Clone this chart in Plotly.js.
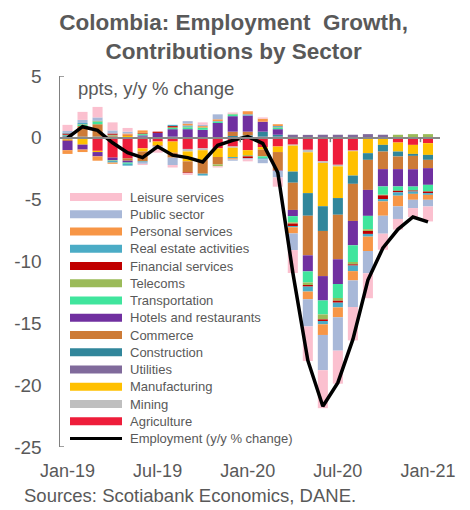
<!DOCTYPE html>
<html>
<head>
<meta charset="utf-8">
<script src="https://cdn.plot.ly/plotly-3.0.1.min.js"></script>
<style>html,body{margin:0;padding:0;background:#fff;}#chart{width:470px;height:510px;}</style>
</head>
<body>
<div id="chart"></div>
<script>
const months = ['Jan-19','Feb-19','Mar-19','Apr-19','May-19','Jun-19','Jul-19','Aug-19','Sep-19','Oct-19','Nov-19','Dec-19',
  'Jan-20','Feb-20','Mar-20','Apr-20','May-20','Jun-20','Jul-20','Aug-20','Sep-20','Oct-20','Nov-20','Dec-20','Jan-21'];
const xTickVals = ['Jan-19','Jul-19','Jan-20','Jul-20','Jan-21'];
const yTickVals = [5,0,-5,-10,-15,-20,-25];
const yTickText = ['5','0','-5','-10','-15','-20','-25'];

const agriculture   = [0.1,0,-1.05,-1.6,-1.65,-0.85,-0.3,-0.3,-0.9,-0.85,-0.85,-0.7,-1.0,-0.75,-0.7,-0.55,-0.97,-1.9,-2.18,-1.03,0.05,0,-0.38,-0.57,-0.43];
const mining        = [0,0,0,0,0,0,0,0,-0.2,-0.15,0,-0.1,0,0,0,-0.08,-0.2,-0.13,-0.13,-0.05,0,0,0,0,0];
const manufacturing = [-0.15,-0.55,-0.1,0,0.2,-0.25,-0.3,-0.9,-0.8,-0.8,-0.7,-0.75,-0.4,-0.2,-0.45,-2.1,-3.3,-3.5,-2.56,-1.97,-1.24,-0.57,-0.73,-0.73,-0.95];
const utilities     = [0,0,0,0,0,0,0,0,0,0,0,0,0,0.1,0.1,0.25,0.24,0.25,0.25,0.25,0.25,0.25,0.05,0.05,0.05];
const construction  = [0.1,0.1,0.1,0.1,0,0.1,0,0.1,0,0,0.05,0.15,0.2,0.4,0.15,-0.9,-1.83,-2.0,-1.35,-0.67,-0.54,-0.54,-0.4,-0.16,-0.4];
const commerce      = [-0.1,0.85,1.0,0.1,-0.2,-0.8,-0.1,-0.4,-0.9,-1.1,-0.6,0.35,0.3,-0.55,-1.45,-2.2,-3.2,-3.65,-3.6,-3.0,-2.43,-1.42,-1.02,-1.08,-0.67];
const hotels        = [-0.75,-0.4,-0.35,-0.2,-0.15,0.1,0.4,0.6,0.7,0.65,1.15,1.25,1.3,0.8,0.45,-0.5,-1.3,-1.97,-2.0,-1.97,-2.1,-1.4,-1.4,-1.4,-1.35];
const transportation= [0.05,0.1,0.2,0.05,-0.1,0.1,0,0.1,0.15,0.15,0.1,0.15,0,-0.15,0.1,-0.5,-0.9,-1.13,-1.13,-1.35,-1.08,-0.67,-0.35,-0.32,-0.54];
const telecoms      = [0,0.05,0.05,-0.05,0,0.05,0,0.05,0.05,0.05,-0.15,0.05,-0.1,0,0.05,-0.1,-0.2,-0.4,-0.22,-0.19,-0.14,-0.05,0.2,0.25,0.25];
const financial     = [0.1,0,0,0.1,0.05,0.05,0.1,0.1,-0.05,0,0,0,-0.15,0,-0.05,-0.2,-0.13,-0.13,-0.16,-0.1,-0.24,-0.3,-0.13,-0.08,-0.13];
const realEstate    = [0.05,0.1,0.05,-0.15,-0.15,-0.05,0,0.1,0.1,-0.15,0.05,-0.1,0.1,-0.1,0.1,-0.1,-0.4,-0.27,-0.38,-0.45,-0.22,-0.19,-0.27,-0.19,-0.14];
const personal      = [-0.3,-0.2,-0.35,-0.1,0.1,0.2,0,0,0.15,0.1,0.15,-0.1,0.25,0.25,0.15,-0.5,-0.62,-0.86,-0.8,-0.75,-1.16,-1.16,-0.86,-0.48,-0.4];
const publicSector  = [0.15,0.25,0.25,0.25,0.15,-0.15,-0.2,-0.6,0.2,0.1,0.4,-0.1,-0.1,-0.3,-0.55,-1.35,-2.2,-2.85,-2.7,-2.15,-1.8,-1.45,-1.02,-0.67,-0.54];
const leisure       = [0.5,0.65,0.85,0.65,0.3,-0.1,-0.3,-0.2,-0.15,0.2,-0.1,0.1,-0.15,0.1,-0.75,-1.85,-2.8,-3.07,-2.67,-2.7,-2.02,-1.3,-0.86,-0.73,-1.21];
const employment    = [0,0.9,0.6,-0.4,-1.2,-1.6,-0.7,-1.4,-1.6,-1.95,-0.6,-0.2,0.1,-0.45,-2.8,-10.9,-18.0,-21.7,-19.8,-16.3,-11.5,-8.9,-7.4,-6.4,-6.8];

const sectorNames = ['Agriculture','Mining','Manufacturing','Utilities','Construction','Commerce','Hotels and restaurants',
  'Transportation','Telecoms','Financial services','Real estate activities','Personal services','Public sector','Leisure services'];
const sectorValues = [agriculture,mining,manufacturing,utilities,construction,commerce,hotels,transportation,telecoms,
  financial,realEstate,personal,publicSector,leisure];
const sectorColors = ['#EE1D3A','#BFBFBF','#FFC000','#806A9B','#31869B','#CD7B37','#7030A0','#40E59D','#9BBB59',
  '#C00000','#4BACC6','#F79646','#A8B8D8','#FBC0CF'];
const lineName = 'Employment (y/y % change)';

const traces = sectorNames.map((n,i)=>({
  type:'bar', name:n, x:months, y:sectorValues[i],
  marker:{color:sectorColors[i], line:{width:0}}, showlegend:false, hoverinfo:'skip'
}));
traces.push({type:'scatter', mode:'lines', name:lineName, x:months, y:employment,
  line:{color:'#000000', width:3.5}, showlegend:false});

// geometry helpers for legend placement (plot area 60..440 x, 76..447 y)
const PL=60, PR=440, PT=76, PB=447;
const px = v => (v-PL)/(PR-PL);
const py = v => (PB-v)/(PB-PT);

const shapes = [];
const annotations = [];
const legendOrder = sectorNames.map((n,i)=>i).reverse();
legendOrder.forEach((idx,k)=>{
  const yc = 197 + 17.25*k;
  shapes.push({type:'rect', xref:'paper', yref:'paper', x0:px(70), x1:px(122), y0:py(yc+4), y1:py(yc-4),
    fillcolor:sectorColors[idx], line:{width:0}});
  annotations.push({xref:'paper', yref:'paper', x:px(128), y:py(yc), xanchor:'left', yanchor:'middle',
    text:sectorNames[idx], showarrow:false, font:{size:13, color:'#595959'}});
});
{
  const yc = 197 + 17.25*14;
  shapes.push({type:'line', xref:'paper', yref:'paper', x0:px(70), x1:px(122), y0:py(yc), y1:py(yc),
    line:{color:'#000', width:3}});
  annotations.push({xref:'paper', yref:'paper', x:px(128), y:py(yc), xanchor:'left', yanchor:'middle',
    text:lineName, showarrow:false, font:{size:13, color:'#595959'}});
}
// y-axis end ticks
[5,-25].forEach(v=>shapes.push({type:'line', xref:'paper', yref:'y', x0:0, x1:px(64), y0:v, y1:v,
  line:{color:'#808080', width:1.5}}));
// category-separator tick marks on the zero line every 6 months
[5.5,11.5,17.5,23.5].forEach(v=>shapes.push({type:'line', xref:'x', yref:'y', x0:v, x1:v, y0:0, y1:-0.35,
  line:{color:'#808080', width:1.5}}));

annotations.push({xref:'paper', yref:'paper', x:px(76), y:py(88), xanchor:'left', yanchor:'middle',
  text:'ppts, y/y % change', showarrow:false, font:{size:18.5, color:'#595959'}});
annotations.push({xref:'paper', yref:'paper', x:px(22), y:py(495), xanchor:'left', yanchor:'middle',
  text:'Sources: Scotiabank Economics, DANE.', showarrow:false, font:{size:18.5, color:'#595959'}});

const layout = {
  width:470, height:510,
  margin:{l:60, r:30, t:76, b:63},
  paper_bgcolor:'#ffffff', plot_bgcolor:'#ffffff',
  font:{family:'"Liberation Sans", Arial, sans-serif', color:'#595959'},
  title:{text:'<b>Colombia: Employment\u00a0 Growth,<br>Contributions by Sector</b>',
    xref:'container', x:0.497, yref:'container', y:0.941, xanchor:'center', yanchor:'top',
    font:{size:22.5, color:'#595959'}},
  barmode:'relative', bargap:0.33,
  showlegend:false,
  xaxis:{type:'category', range:[-0.5,24.8], tickvals:xTickVals, ticktext:xTickVals, ticks:'',
    showgrid:false, showline:false, zeroline:false, tickfont:{size:18, color:'#595959'}, ticklabelstandoff:11},
  yaxis:{range:[-25,5], tickvals:yTickVals, ticktext:yTickText, ticks:'', showgrid:false,
    zeroline:true, zerolinecolor:'#888888', zerolinewidth:2.5, zerolinelayer:'above traces',
    showline:true, linecolor:'#808080', linewidth:1.5, tickfont:{size:19, color:'#595959'}, ticklabelstandoff:13},
  shapes:shapes, annotations:annotations
};
Plotly.newPlot('chart', traces, layout, {displayModeBar:false, staticPlot:true});
</script>
</body>
</html>
